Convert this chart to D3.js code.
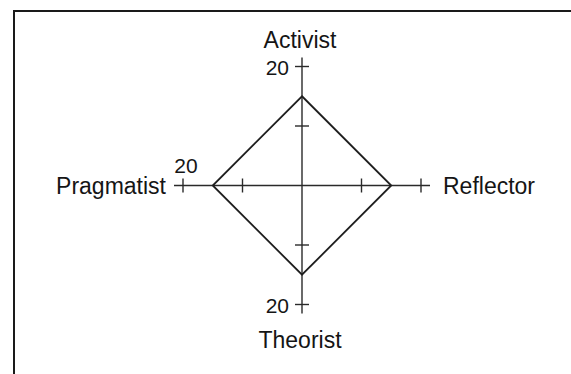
<!DOCTYPE html>
<html>
<head>
<meta charset="utf-8">
<script src="https://cdn.jsdelivr.net/npm/d3@7"></script>
<style>
  body { margin: 0; background: #fff; }
  text { font-family: "Liberation Sans", Arial, sans-serif; fill: #151515; }
</style>
</head>
<body>
<div id="chart"></div>
<script>
"use strict"
// Learning style axes, clockwise from the top
var axes = ["Activist", "Reflector", "Theorist", "Pragmatist"]
var scores = [15, 15, 15, 15]
var tickValues = [10, 20]
var labelledAxes = ["Activist", "Theorist", "Pragmatist"] // "20" printed on these only

var width = 571
var height = 374
var cx = 302, cy = 185.5
var axisLen = 128 // px, axis runs a little past the last tick

var svg = d3.select("#chart").append("svg")
    .attr("width", width)
    .attr("height", height)

// frame: only top and left edges fall inside the picture
svg.append("rect")
    .attr("x", 14).attr("y", 11)
    .attr("width", width).attr("height", height)
    .attr("fill", "none")
    .attr("stroke", "#1a1a1a")
    .attr("stroke-width", 2)

var r = d3.scaleLinear().domain([0, 20]).range([0, 119])
var angle = d3.scalePoint().domain(axes.concat(["_end"])).range([0, 2 * Math.PI])

var g = svg.append("g").attr("transform", "translate(" + cx + "," + cy + ")")

function ux(name) { return Math.sin(angle(name)) }
function uy(name) { return -Math.cos(angle(name)) }
function px(name, v) { return ux(name) * r(v) }
function py(name, v) { return uy(name) * r(v) }

// axis lines
g.selectAll(".axis").data(axes).enter().append("line")
    .attr("class", "axis")
    .attr("x1", 0).attr("y1", 0)
    .attr("x2", function(d) { return ux(d) * axisLen })
    .attr("y2", function(d) { return uy(d) * axisLen })
    .attr("stroke", "#2a2a2a")
    .attr("stroke-width", 1.4)

// cross ticks
var tickData = []
axes.forEach(function(a) { tickValues.forEach(function(t) { tickData.push({axis: a, v: t}) }) })
var half = 7
g.selectAll(".tick").data(tickData).enter().append("line")
    .attr("class", "tick")
    .attr("x1", function(d) { return px(d.axis, d.v) + uy(d.axis) * half })
    .attr("y1", function(d) { return py(d.axis, d.v) - ux(d.axis) * half })
    .attr("x2", function(d) { return px(d.axis, d.v) - uy(d.axis) * half })
    .attr("y2", function(d) { return py(d.axis, d.v) + ux(d.axis) * half })
    .attr("stroke", "#2a2a2a")
    .attr("stroke-width", 1.4)

// the profile
var radial = d3.lineRadial()
    .angle(function(d, i) { return angle(axes[i]) })
    .radius(function(d) { return r(d) })
    .curve(d3.curveLinearClosed)

g.append("path")
    .datum(scores)
    .attr("d", radial)
    .attr("fill", "none")
    .attr("stroke", "#1e1e1e")
    .attr("stroke-width", 1.8)
    .attr("stroke-linejoin", "miter")

// "20" tick labels
var maxTick = d3.max(tickValues)
g.selectAll(".tlabel").data(labelledAxes).enter().append("text")
    .attr("class", "tlabel")
    .style("font-size", "21px")
    .attr("x", function(d) {
      return d == "Pragmatist" ? px(d, maxTick) + 3 : px(d, maxTick) - 13
    })
    .attr("y", function(d) {
      return d == "Pragmatist" ? py(d, maxTick) - 13 : py(d, maxTick) + 8
    })
    .attr("text-anchor", function(d) { return d == "Pragmatist" ? "middle" : "end" })
    .text(maxTick)

// axis names
g.selectAll(".alabel").data(axes).enter().append("text")
    .attr("class", "alabel")
    .style("font-size", "23px")
    .attr("x", function(d) {
      if (d == "Reflector") return axisLen + 13
      if (d == "Pragmatist") return -axisLen - 8
      return -2
    })
    .attr("y", function(d) {
      if (d == "Activist") return -axisLen - 10
      if (d == "Theorist") return axisLen + 34
      return 8
    })
    .attr("text-anchor", function(d) {
      if (d == "Reflector") return "start"
      if (d == "Pragmatist") return "end"
      return "middle"
    })
    .text(function(d) { return d })
</script>
</body>
</html>
